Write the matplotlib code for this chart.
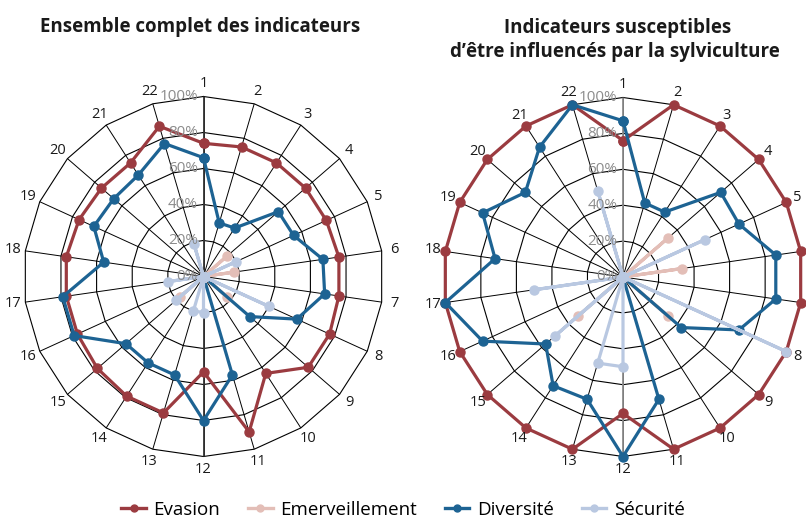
import numpy as np
import matplotlib
matplotlib.use("Agg")
import matplotlib.pyplot as plt
from matplotlib.lines import Line2D

plt.rcParams['font.family'] = ['Open Sans', 'DejaVu Sans']

categories = [str(i) for i in range(1, 23)]
series_names = ["Evasion", "Emerveillement", "Diversité", "Sécurité"]
colors = ["#9b3b40", "#e3beb7", "#1d6393", "#b9c8e1"]

# Left chart: all indicators
left_evasion = [74, 75, 75, 75, 75, 76, 76, 77, 77, 64, 90, 53, 79, 79, 78, 77, 77, 77, 76, 75, 75, 87]
left_emerv = [0, 0, 0, 17, 0, 17, 0, 0, 17, 0, 0, 0, 0, 0, 17, 0, 0, 0, 0, 0, 0, 0]
left_divers = [66, 31, 32, 55, 55, 67, 68, 57, 34, 0, 57, 80, 57, 57, 57, 79, 79, 56, 67, 66, 67, 77]
left_secur = [0, 0, 0, 0, 20, 0, 0, 40, 0, 0, 0, 20, 20, 0, 20, 0, 20, 0, 0, 0, 0, 19]

# Right chart: indicators influenced by silviculture
right_evasion = [76, 100, 100, 100, 100, 100, 100, 100, 100, 100, 100, 76, 100, 100, 100, 100, 100, 100, 100, 100, 100, 100]
right_emerv = [0, 0, 0, 33, 0, 33, 0, 0, 33, 0, 0, 0, 0, 0, 33, 0, 0, 0, 0, 0, 0, 0]
right_divers = [87, 43, 43, 72, 71, 86, 86, 71, 43, 0, 71, 100, 71, 72, 57, 86, 100, 72, 86, 72, 86, 100]
right_secur = [0, 0, 0, 0, 50, 0, 0, 100, 0, 0, 0, 50, 50, 0, 50, 0, 50, 0, 0, 0, 0, 50]

r_ticks = [0, 20, 40, 60, 80, 100]
r_labels = ["0%", "20%", "40%", "60%", "80%", "100%"]

title_left = "Ensemble complet des indicateurs"
title_right = ["Indicateurs susceptibles", "d\u2019être influencés par la sylviculture"]

fig = plt.figure(figsize=(8.06, 5.23), dpi=100)
W, H = 806, 523

def make_ax(cx, cy, R):
    return fig.add_axes([(cx - R) / W, (H - cy - R) / H, 2 * R / W, 2 * R / H], projection='polar')

n = len(categories)
theta = np.arange(n) * 2 * np.pi / n

def draw(ax, data_sets, axis_color, hidden_labels=()):
    ax.set_theta_zero_location('N')
    ax.set_theta_direction(-1)
    ax.set_ylim(0, 100)
    ax.set_rgrids(r_ticks[1:], labels=[""] * 5)
    ax.set_thetagrids(np.degrees(theta), labels=[""] * n)
    ax.xaxis.grid(True, color="black", lw=0.7)
    ax.yaxis.grid(False)
    ax.spines['polar'].set_visible(False)
    ax.tick_params(length=0)
    ax.patch.set_alpha(0)
    t_closed = np.append(theta, theta[0])
    # polygonal web gridlines
    for r in r_ticks[1:]:
        ax.plot(t_closed, [r] * (n + 1), color="black", lw=0.8, zorder=1, clip_on=False)
    # vertical value axis
    ax.plot([0, 0], [0, 100], color=axis_color, lw=1.3, zorder=2)
    ax.plot([np.pi, np.pi], [0, 100], color=axis_color, lw=1.3, zorder=2)
    for vals, c in zip(data_sets, colors):
        v = np.append(vals, vals[0])
        ax.plot(t_closed, v, color=c, lw=2.3, marker='o', ms=6.5, clip_on=False, zorder=3)
    for v, lab in zip(r_ticks, r_labels):
        ax.annotate(lab, xy=(0, v), xytext=(-4, 0), textcoords='offset points',
                    ha='right', va='center', color="#8c8c8c", fontsize=11, zorder=4)
    for th, lab in zip(theta, categories):
        if lab in hidden_labels:
            continue
        ax.text(th, 107, lab, ha='center', va='center', fontsize=10.5, color="#1a1a1a")

axL = make_ax(203.5, 276.5, 180)
draw(axL, [left_evasion, left_emerv, left_divers, left_secur], "#333333")
axR = make_ax(623, 277, 179.5)
# labels 6 and 7 fall outside the picture on the right chart
draw(axR, [right_evasion, right_emerv, right_divers, right_secur], "#8c8c8c",
     hidden_labels=("6", "7"))

fig.text(200 / W, 1 - 32 / H, title_left, ha='center', va='baseline',
         fontsize=13.5, fontweight='bold', color="#1a1a1a")
fig.text(618 / W, 1 - 33 / H, title_right[0], ha='center', va='baseline',
         fontsize=13.5, fontweight='bold', color="#1a1a1a")
fig.text(615 / W, 1 - 57 / H, title_right[1], ha='center', va='baseline',
         fontsize=13.5, fontweight='bold', color="#1a1a1a")

handles = [Line2D([0], [0], color=c, lw=2.4, marker='o', ms=5) for c in colors]
fig.legend(handles, series_names, loc='center', bbox_to_anchor=(0.5, 1 - 510 / H),
           ncol=4, frameon=False, fontsize=13.5, handlelength=1.3, handletextpad=0.4,
           columnspacing=1.5)

fig.savefig("out.png", dpi=100)
